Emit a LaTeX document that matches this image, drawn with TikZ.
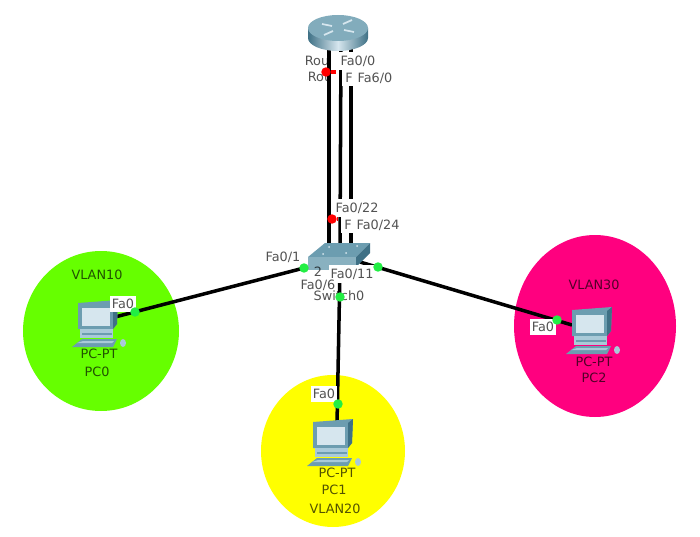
\documentclass[tikz,border=0pt]{standalone}
\usepackage{fontspec}
\setmainfont{DejaVu Sans}
\definecolor{vlangreen}{HTML}{66FF00}
\definecolor{vlanyellow}{HTML}{FFFF00}
\definecolor{vlanpink}{HTML}{FF007F}
\definecolor{portgreen}{HTML}{22EE44}
\definecolor{iconblue}{HTML}{6C9DB0}
\definecolor{icondark}{HTML}{3F7186}
\definecolor{iconlight}{HTML}{D6E6EE}
\definecolor{iconpale}{HTML}{A9CAD8}
\tikzset{
  link/.style={draw=black,line width=2pt},
  updot/.style={circle,fill=portgreen,inner sep=0pt,minimum size=5.4pt},
  downdot/.style={circle,fill=red,inner sep=0pt,minimum size=5.4pt},
  devtext/.style={font=\fontsize{7.3}{8}\selectfont,text=black,text opacity=0.68,inner sep=0pt},
  porttext/.style={devtext,fill=white,inner xsep=1pt,inner ysep=2pt},
  pcicon/.pic={
    \fill[iconblue] (-20,-18) -- (20,-21) -- (19,3) -- (15,8) -- (-20,8) -- cycle;
    \fill[icondark] (15,-17) -- (20,-21) -- (19,3) -- (15,8) -- cycle;
    \fill[iconlight] (-16,-13) rectangle (12,5);
    \fill[iconpale] (-18,8) rectangle (15,17);
    \fill[iconblue] (-16,12) rectangle (14,14);
    \fill[iconblue] (-26,26) -- (-16,18) -- (19,18) -- (15,26) -- cycle;
    \fill[iconpale] (-21,22) -- (-15,20) -- (16,20) -- (14,22) -- cycle;
    \fill[iconpale] (25,22) circle [x radius=3,y radius=4];
  }
}
\begin{document}
\begin{tikzpicture}[x=0.02cm,y=-0.02cm]
  \useasboundingbox (0,0) rectangle (700,537);

  % vlan areas
  \fill[vlangreen] (101,331) ellipse [x radius=78,y radius=80];
  \fill[vlanyellow] (333,451) ellipse [x radius=72,y radius=76];
  \fill[vlanpink] (595,326) ellipse [x radius=81,y radius=91];

  % devices
  \coordinate (PC0) at (98,321);
  \coordinate (PC1) at (333,440);
  \coordinate (PC2) at (592,328);

  % ends of the links
  \coordinate (RouterA) at (329,45);
  \coordinate (RouterB) at (341,45);
  \coordinate (RouterC) at (351,45);
  \coordinate (SwitchA) at (329,245);
  \coordinate (SwitchB) at (340,245);
  \coordinate (SwitchC) at (351,245);
  \coordinate (SwitchD) at (304,268);
  \coordinate (SwitchE) at (340,268);
  \coordinate (SwitchF) at (360,262);
  \coordinate (PC0end) at (115,317);
  \coordinate (PC1end) at (337,425);
  \coordinate (PC2end) at (572,325);

  % links
  \foreach \a in {A,B,C} \draw[link] (Router\a) -- (Switch\a);
  \draw[link] (PC0end) -- (SwitchD);
  \draw[link] (PC1end) -- (SwitchE);
  \draw[link] (PC2end) -- (SwitchF);

  % router
  \shade[left color=icondark,right color=icondark,middle color=iconlight]
    (308,28) -- (308,38) arc [start angle=180,end angle=0,x radius=30,y radius=13]
    -- (368,28) -- cycle;
  \fill[iconblue!85!white] (338,28) ellipse [x radius=30,y radius=13];
  \draw[iconlight,line width=1pt] (322,24) -- (332,26) (344,30) -- (354,32)
    (343,24) -- (352,20) (324,35) -- (333,31);

  % switch
  \fill[iconblue] (308,257) -- (325,243) -- (370,243) -- (356,257) -- cycle;
  \fill[iconblue!80!white] (308,257) rectangle (356,270);
  \fill[icondark] (356,257) -- (370,243) -- (370,253) -- (356,267) -- cycle;
  \foreach \p in {(323,254),(346,253),(329,247),(357,246)}
    \fill[iconlight] \p circle (1);

  % computers
  \foreach \c in {PC0,PC1,PC2} \pic at (\c) {pcicon};

  % device texts
  \node[devtext] (Vlan10Text) at (97,275) {VLAN10};
  \node[devtext] (Pc0Type) at (99,354) {PC-PT};
  \node[devtext] (Pc0Name) at (97,372) {PC0};
  \node[devtext] (Pc1Type) at (337,473) {PC-PT};
  \node[devtext] (Pc1Name) at (334,490) {PC1};
  \node[devtext] (Vlan20Text) at (335,509) {VLAN20};
  \node[devtext] (Vlan30Text) at (594,285) {VLAN30};
  \node[devtext] (Pc2Type) at (594,362) {PC-PT};
  \node[devtext] (Pc2Name) at (594,378) {PC2};
  \node[devtext] (RouterTextA) at (317,61) {Rou};
  \node[devtext] (RouterTextB) at (320,77) {Rou};
  \node[devtext] (SwitchTextA) at (318,272) {2};
  \node[devtext] (SwitchTextB) at (339,296) {Switch0};

  % port labels
  \node[porttext] (RouterPortA) at (358,61) {Fa0/0};
  \node[porttext,minimum width=8pt] (RouterPortB) at (349,78) {F};
  \node[porttext] (RouterPortC) at (375,78) {Fa6/0};
  \node[porttext] (SwitchPortA) at (357,208) {Fa0/22};
  \node[porttext,minimum width=8pt] (SwitchPortB) at (348,225) {F};
  \node[porttext] (SwitchPortC) at (378,225) {Fa0/24};
  \node[devtext] (SwitchPortD) at (283,257) {Fa0/1};
  \node[porttext] (SwitchPortE) at (352,274) {Fa0/11};
  \node[devtext] (SwitchPortF) at (318,285) {Fa0/6};
  \node[porttext] (Pc0Port) at (123,304) {Fa0};
  \node[porttext] (Pc1Port) at (324,394) {Fa0};
  \node[porttext] (Pc2Port) at (543,327) {Fa0};

  % port lights
  \foreach \n/\p in {DotA/{(326,72)},DotB/{(332,219)}}
    \node[downdot] (\n) at \p {};
  \draw[red,line width=1.8pt] (DotA) -- ++(10,0);
  \draw[red,line width=1.8pt] (DotB) -- ++(6,0);
  \foreach \n/\p in {DotC/{(304,268)},DotD/{(378,267)},DotE/{(340,297)},DotF/{(135,312)},DotG/{(338,404)},DotH/{(557,320)}}
    \node[updot] (\n) at \p {};
\end{tikzpicture}
\end{document}
